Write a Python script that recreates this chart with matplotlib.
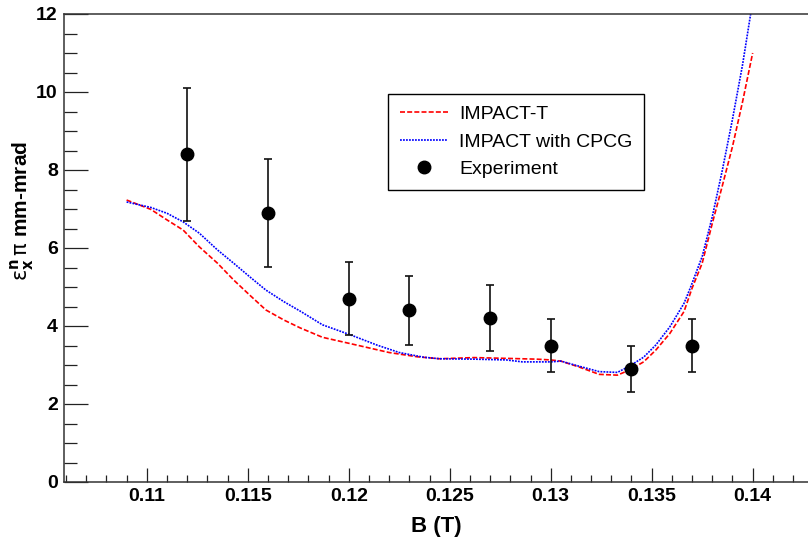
import matplotlib
matplotlib.use("Agg")
import matplotlib.pyplot as plt
from matplotlib.ticker import MultipleLocator, FuncFormatter

plt.rcParams['font.family'] = ['Liberation Sans', 'DejaVu Sans']
plt.rcParams['mathtext.fontset'] = 'dejavusans'

# IMPACT-T simulation (red dashed)
impact_t_b = [0.1090, 0.1102, 0.1110, 0.1118, 0.1126, 0.1135, 0.1143, 0.1151,
              0.1159, 0.1168, 0.1176, 0.1187, 0.1204, 0.1220, 0.1234, 0.1245,
              0.1262, 0.1278, 0.1293, 0.1300, 0.1305, 0.1314, 0.1324, 0.1333,
              0.1339, 0.1346, 0.1352, 0.1359, 0.1366, 0.1370, 0.1375, 0.1380,
              0.1385, 0.1390, 0.1395, 0.1400]
impact_t_eps = [7.23, 6.99, 6.72, 6.46, 6.03, 5.61, 5.18, 4.79,
                4.41, 4.15, 3.95, 3.71, 3.51, 3.32, 3.21, 3.16,
                3.19, 3.17, 3.15, 3.13, 3.10, 2.95, 2.76, 2.74,
                2.87, 3.08, 3.38, 3.81, 4.37, 4.97, 5.61, 6.63,
                7.60, 8.60, 9.75, 11.00]

# IMPACT with CPCG solver (blue dotted)
cpcg_b = [0.1090, 0.1102, 0.1110, 0.1118, 0.1126, 0.1135, 0.1143, 0.1151,
          0.1159, 0.1168, 0.1176, 0.1187, 0.1201, 0.1214, 0.1225, 0.1237,
          0.1245, 0.1262, 0.1278, 0.1286, 0.1300, 0.1305, 0.1314, 0.1324,
          0.1333, 0.1339, 0.1346, 0.1352, 0.1359, 0.1366, 0.1369, 0.1375,
          0.1380, 0.1385, 0.1390, 0.1395, 0.1399, 0.1400]
cpcg_eps = [7.18, 7.04, 6.89, 6.67, 6.38, 5.95, 5.61, 5.26,
            4.92, 4.62, 4.38, 4.03, 3.77, 3.51, 3.32, 3.20,
            3.16, 3.15, 3.13, 3.08, 3.08, 3.10, 2.97, 2.83,
            2.81, 2.97, 3.20, 3.51, 3.98, 4.58, 4.96, 5.78,
            6.80, 8.00, 9.30, 10.70, 12.00, 12.35]

# measured emittance
exp_b = [0.112, 0.116, 0.120, 0.123, 0.127, 0.130, 0.134, 0.137]
exp_eps = [8.4, 6.9, 4.7, 4.4, 4.2, 3.5, 2.9, 3.5]
exp_err = [1.70, 1.38, 0.94, 0.88, 0.84, 0.68, 0.58, 0.68]

W, H = 808, 544
fig = plt.figure(figsize=(W / 100, H / 100), dpi=100)
ax = fig.add_axes([64 / W, 1 - 482 / H, (W - 64) / W, 468 / H])

ax.plot(impact_t_b, impact_t_eps, color='#ff0000', lw=1.2,
        linestyle=(0, (3, 1.3)), label='IMPACT-T')
ax.plot(cpcg_b, cpcg_eps, color='#0000ff', lw=1.2,
        linestyle=(0, (1.1, 0.7)), label='IMPACT with CPCG')
ax.errorbar(exp_b, exp_eps, yerr=exp_err, fmt='none', ecolor='#111111',
            elinewidth=1.2, capsize=3, capthick=1.2)
ax.plot(exp_b, exp_eps, 'o', color='black', ms=9, label='Experiment')

ax.set_xlim(0.1059, 0.14274)
ax.set_ylim(0, 12)

ax.xaxis.set_major_locator(MultipleLocator(0.005))
ax.xaxis.set_minor_locator(MultipleLocator(0.001))
ax.yaxis.set_major_locator(MultipleLocator(2))
ax.yaxis.set_minor_locator(MultipleLocator(0.5))
ax.xaxis.set_major_formatter(FuncFormatter(lambda v, p: f'{v:g}'))
ax.yaxis.set_major_formatter(FuncFormatter(lambda v, p: f'{v:g}'))

ax.tick_params(axis='both', which='both', direction='in', color='#222222',
               width=0.9, top=False, right=False)
ax.tick_params(axis='y', which='major', length=17, pad=4.5)
ax.tick_params(axis='y', which='minor', length=9.4)
ax.tick_params(axis='x', which='major', length=10, pad=4)
ax.tick_params(axis='x', which='minor', length=5)
for lab in ax.get_xticklabels() + ax.get_yticklabels():
    lab.set_fontsize(14)
    lab.set_fontweight('bold')

for side in ['left', 'bottom', 'top']:
    ax.spines[side].set_color('#333333')
    ax.spines[side].set_linewidth(1.1)
ax.spines['right'].set_visible(False)

ax.set_xlabel('B (T)', fontsize=16, fontweight='bold', labelpad=8)
ax.set_ylabel(r'$\mathrm{\epsilon}^{\mathbf{n}}_{\mathbf{x}}\,\mathrm{\pi}$ mm-mrad',
              fontsize=15, fontweight='bold')
ax.yaxis.set_label_coords(-0.037, 0.58)

leg = ax.legend(loc='upper left', bbox_to_anchor=(388 / W, 1 - 94 / H),
                bbox_transform=fig.transFigure, borderaxespad=0,
                fancybox=False, frameon=True, edgecolor='black',
                framealpha=1, fontsize=14, handlelength=2.47,
                handletextpad=0.6, labelspacing=0.5, borderpad=0.6)
leg.get_frame().set_linewidth(1.0)

fig.savefig('out.png', dpi=100)
